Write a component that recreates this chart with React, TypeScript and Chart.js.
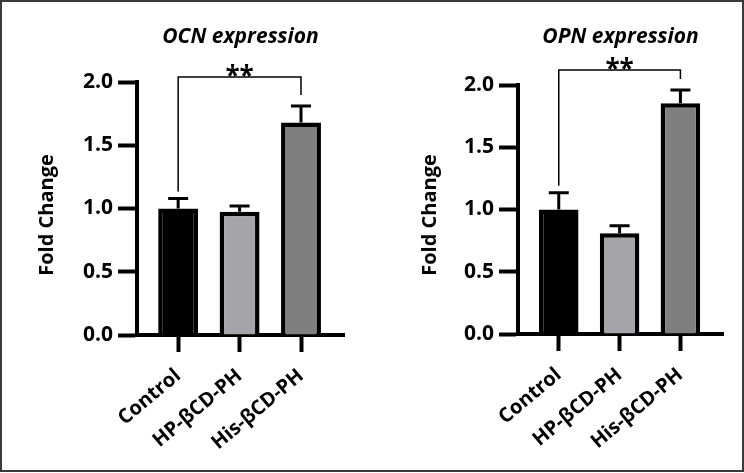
import React, { useEffect, useRef } from 'react';
import { Chart, registerables } from 'chart.js';

Chart.register(...registerables);

// ---------------- data ----------------
const categories = ['Control', 'HP-βCD-PH', 'His-βCD-PH'];
const ocnMeans = [1.0, 0.975, 1.68];
const ocnErrors = [0.08, 0.045, 0.13];
const opnMeans = [1.0, 0.81, 1.853];
const opnErrors = [0.135, 0.06, 0.107];
const yTickValues = [0, 0.5, 1.0, 1.5, 2.0];
const barColors = ['#000000', '#a4a4a9', '#7f7f7f'];
const ocnTitle = 'OCN expression';
const opnTitle = 'OPN expression';
const yAxisTitle = 'Fold Change';
const sigLabel = '**';
const sigPair = [0, 2];
const ocnBracketLevel = 2.04;
const opnBracketLevel = 2.12;

// ---------------- layout ----------------
const W = 372;
const H = 472;
const FONT = '"Open Sans", "DejaVu Sans", sans-serif';

type PanelCfg = {
  title: string;
  means: number[];
  errors: number[];
  bracket: number;
  axisLeft: number;
  padRight: number;
  top: number;
  bottom: number;
  yTitleX: number;
  yTitleY: number;
};

const annotPlugin = {
  id: 'annot',
  afterDatasetsDraw(chart: any, _args: any, opts: any) {
    const { ctx } = chart;
    const meta = chart.getDatasetMeta(0);
    const y = chart.scales.y;
    ctx.save();
    ctx.strokeStyle = '#000';
    ctx.fillStyle = '#000';
    // error bars (upper only)
    meta.data.forEach((bar: any, i: number) => {
      const top = y.getPixelForValue(opts.means[i] + opts.errors[i]);
      ctx.lineWidth = 3;
      ctx.beginPath();
      ctx.moveTo(bar.x, bar.y);
      ctx.lineTo(bar.x, top);
      ctx.moveTo(bar.x - 10, top);
      ctx.lineTo(bar.x + 10, top);
      ctx.stroke();
    });
    // significance bracket
    const [a, b] = opts.pair;
    const xa = meta.data[a].x;
    const xb = meta.data[b].x;
    const yl = y.getPixelForValue(opts.bracket);
    const ya = y.getPixelForValue(opts.means[a] + opts.errors[a]) - 7;
    const yb = y.getPixelForValue(opts.means[b] + opts.errors[b]) - 11;
    ctx.lineWidth = 1.5;
    ctx.beginPath();
    ctx.moveTo(xa, ya);
    ctx.lineTo(xa, yl);
    ctx.lineTo(xb, yl);
    ctx.lineTo(xb, yb);
    ctx.stroke();
    ctx.font = `bold 26px ${FONT}`;
    ctx.textAlign = 'center';
    ctx.textBaseline = 'alphabetic';
    ctx.fillText(opts.label, (xa + xb) / 2, yl + 8);
    // y axis title
    ctx.translate(opts.yTitleX, opts.yTitleY);
    ctx.rotate(-Math.PI / 2);
    ctx.font = `bold 20px ${FONT}`;
    ctx.textBaseline = 'middle';
    ctx.fillText(opts.yTitle, 0, 0);
    ctx.restore();
  },
};

function Panel({ cfg }: { cfg: PanelCfg }) {
  const ref = useRef<HTMLCanvasElement | null>(null);
  useEffect(() => {
    if (!ref.current) return;
    const titleSize = 21;
    const titleLine = titleSize * 1.2;
    const titleTopPad = 37 - titleLine / 2;
    const chart = new Chart(ref.current, {
      type: 'bar',
      data: {
        datasets: [
          {
            data: cfg.means.map((v, i) => ({ x: i, y: v })),
            backgroundColor: barColors,
            borderColor: '#000',
            borderWidth: 4.5,
            barPercentage: 0.65,
            categoryPercentage: 1,
          },
        ],
      },
      options: {
        animation: false,
        responsive: false,
        layout: { padding: { left: 0, right: cfg.padRight, top: 0, bottom: 0 } },
        plugins: {
          legend: { display: false },
          tooltip: { enabled: false },
          title: {
            display: true,
            text: cfg.title,
            fullSize: false,
            color: '#000',
            font: { family: FONT, size: titleSize, weight: 'bold', style: 'italic' },
            padding: { top: titleTopPad, bottom: cfg.top - titleTopPad - titleLine },
          },
          annot: {
            means: cfg.means,
            errors: cfg.errors,
            bracket: cfg.bracket,
            pair: sigPair,
            label: sigLabel,
            yTitle: yAxisTitle,
            yTitleX: cfg.yTitleX,
            yTitleY: cfg.yTitleY,
          },
        } as any,
        scales: {
          x: {
            type: 'linear',
            min: -0.67,
            max: 2.7,
            offset: false,
            afterBuildTicks: (s: any) => {
              s.ticks = categories.map((_, i) => ({ value: i }));
            },
            afterFit: (s: any) => {
              s.height = H - cfg.bottom;
            },
            ticks: {
              autoSkip: false,
              minRotation: 40,
              maxRotation: 40,
              color: '#000',
              padding: 12,
              font: { family: FONT, size: 20, weight: 'bold' },
              callback: (v: any) => categories[Math.round(Number(v))],
            },
            grid: {
              offset: false,
              drawOnChartArea: false,
              drawTicks: true,
              tickLength: 17,
              tickWidth: 4,
              tickColor: '#000',
            },
            border: { display: true, color: '#000', width: 4 },
          } as any,
          y: {
            min: 0,
            max: 2,
            afterBuildTicks: (s: any) => {
              s.ticks = yTickValues.map((v) => ({ value: v }));
            },
            afterFit: (s: any) => {
              s.width = cfg.axisLeft;
            },
            ticks: {
              color: '#000',
              padding: 5,
              font: { family: FONT, size: 21, weight: 'bold' },
              callback: (v: any) => Number(v).toFixed(1),
            },
            grid: {
              drawOnChartArea: false,
              drawTicks: true,
              tickLength: 19,
              tickWidth: 4,
              tickColor: '#000',
            },
            border: { display: true, color: '#000', width: 4 },
          } as any,
        },
      },
      plugins: [annotPlugin],
    });
    return () => chart.destroy();
  }, [cfg]);
  return <canvas ref={ref} width={W} height={H} style={{ display: 'block', width: W, height: H }} />;
}

const ocnCfg: PanelCfg = {
  title: ocnTitle,
  means: ocnMeans,
  errors: ocnErrors,
  bracket: ocnBracketLevel,
  axisLeft: 137,
  padRight: 28,
  top: 82,
  bottom: 335,
  yTitleX: 47,
  yTitleY: 215,
};

const opnCfg: PanelCfg = {
  title: opnTitle,
  means: opnMeans,
  errors: opnErrors,
  bracket: opnBracketLevel,
  axisLeft: 146,
  padRight: 21,
  top: 85,
  bottom: 334,
  yTitleX: 58,
  yTitleY: 215,
};

export default function App() {
  useEffect(() => {
    document.body.style.margin = '0';
  }, []);
  return (
    <div style={{ position: 'relative', width: 744, height: 473, background: '#fff' }}>
      <div style={{ position: 'absolute', left: 0, top: 0 }}>
        <Panel cfg={ocnCfg} />
      </div>
      <div style={{ position: 'absolute', left: W, top: 0 }}>
        <Panel cfg={opnCfg} />
      </div>
      <div
        style={{
          position: 'absolute',
          left: 0,
          top: 0,
          width: 744,
          height: 472,
          boxSizing: 'border-box',
          border: '2px solid #3a3a3a',
          pointerEvents: 'none',
        }}
      />
    </div>
  );
}
